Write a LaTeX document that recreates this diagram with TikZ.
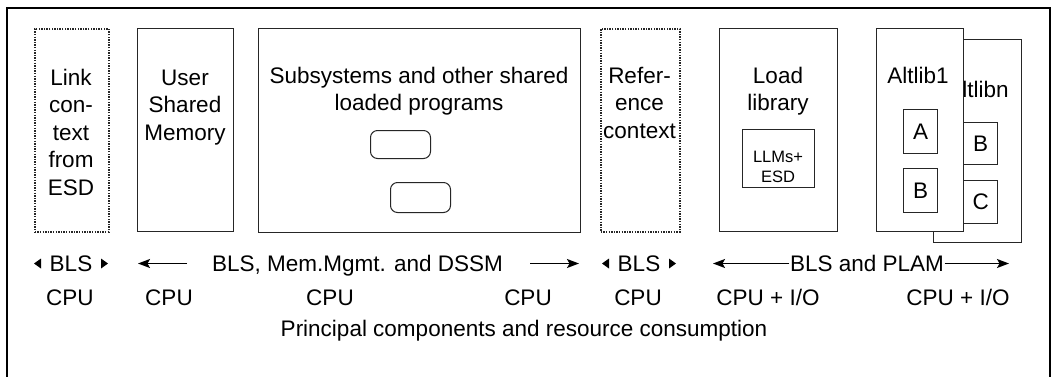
\documentclass[tikz,border=0pt]{standalone}
\usepackage{fontspec}
\setmainfont{Liberation Sans}
\usetikzlibrary{arrows.meta}
\definecolor{edge}{HTML}{262626}
\newcommand\bigtxt{\fontsize{22.5}{27.5}\selectfont}
\newcommand\smalltxt{\fontsize{16.5}{20}\selectfont}
\newcommand\firstline{\rule{0pt}{17pt}}
\begin{document}
\begin{tikzpicture}[x=1pt,y=-1pt,
  box/.style={draw=edge, line width=1.4pt, inner sep=0, anchor=north west, fill=white},
  dotbox/.style={box, dash pattern=on 1.4pt off 1.2pt, line width=1.7pt},
  roundbox/.style={draw=edge, line width=1pt, rounded corners=7pt, inner sep=0, anchor=north west},
  head/.style={anchor=north, inner sep=0, align=center, font=\bigtxt},
  bt/.style={anchor=base, inner sep=0, font=\bigtxt},
  arr/.style={line width=1.4pt, -{Stealth[length=12pt,width=9pt,inset=2.5pt]}},
  tri/.style={fill=black}]
\useasboundingbox (0,0) rectangle (1053,376);

% outer frame (open at the bottom)
\draw[line width=1.6pt] (7,377) -- (7,8) -- (1050,8) -- (1050,377);

% link context from ESD
\node[dotbox, minimum width=74pt, minimum height=203pt] (lce) at (34,28) {};
\node[head] (lcet) at (71,68) {\firstline Link\\con-\\text\\from\\ESD};

% user shared memory
\node[box, minimum width=96pt, minimum height=203pt] (usm) at (137,28) {};
\node[head] (usmt) at (185,68) {\firstline User\\Shared\\Memory};

% subsystems and shared loaded programs
\node[box, minimum width=322pt, minimum height=204pt] (sub) at (258,28) {};
\node[head] (subt) at (419,66) {\firstline Subsystems and other shared\\loaded programs};
\node[roundbox, minimum width=60pt, minimum height=28pt] (ss1) at (370,130) {};
\node[roundbox, minimum width=60pt, minimum height=30pt] (ss2) at (390,182) {};

% reference context
\node[dotbox, minimum width=79pt, minimum height=203pt] (ref) at (600,28) {};
\node[head] (reft) at (639.5,66) {\firstline Refer-\\ence\\context};

% load library
\node[box, minimum width=118pt, minimum height=203pt] (ll) at (719,28) {};
\node[head] (llt) at (778,66) {\firstline Load\\library};
\node[box, minimum width=72pt, minimum height=58pt] (llm) at (742,129) {};
\node[anchor=north, inner sep=0, align=center, font=\smalltxt] (llmt) at (778,149) {\rule{0pt}{13pt}LLMs+\\ESD};

% alternative library n (behind)
\node[box, minimum width=88pt, minimum height=203pt] (altn) at (933,39) {};
\node[head] (altnt) at (978,80) {\firstline Altlibn};
\node[box, minimum width=38pt, minimum height=42pt, font=\bigtxt] (bn) at (959,122) {\hspace*{4pt}B};
\node[box, minimum width=38pt, minimum height=43pt, font=\bigtxt] (cn) at (959,180) {\hspace*{4pt}C};

% alternative library 1 (front)
\node[box, minimum width=87pt, minimum height=203pt] (alt1) at (876,28) {};
\node[head] (alt1t) at (918,66) {\firstline Altlib1};
\node[box, minimum width=34pt, minimum height=44pt, font=\bigtxt] (a1) at (903,109) {A};
\node[box, minimum width=34pt, minimum height=44pt, font=\bigtxt] (b1) at (903,168) {B};

% resource row: managers
\node[bt] (bls1) at (71,271.5) {BLS};
\fill[tri] (34,263.5) -- (41,258.5) -- (41,268.5) -- cycle;
\fill[tri] (108,263.5) -- (101,258.5) -- (101,268.5) -- cycle;

\coordinate (m1a) at (187,263.5);
\coordinate (m1b) at (138,263.5);
\draw[arr] (m1a) -- (m1b);
\node[bt] (mgmt) at (357.5,271.5) {BLS, Mem.Mgmt. and DSSM};
\coordinate (m2a) at (530,263.5);
\coordinate (m2b) at (579,263.5);
\draw[arr] (m2a) -- (m2b);

\node[bt] (bls2) at (639,271.5) {BLS};
\fill[tri] (602,263.5) -- (609,258.5) -- (609,268.5) -- cycle;
\fill[tri] (676,263.5) -- (669,258.5) -- (669,268.5) -- cycle;

\node[bt, inner xsep=0.5pt] (plam) at (867,271.5) {BLS and PLAM};
\coordinate (pl) at (713,263.5);
\coordinate (pr) at (1009,263.5);
\draw[arr] (plam.west |- pl) -- (pl);
\draw[arr] (plam.east |- pr) -- (pr);

% resource row: consumption
\node[bt] (c1) at (70,305) {CPU};
\node[bt] (c2) at (169,305) {CPU};
\node[bt] (c3) at (330,305) {CPU};
\node[bt] (c4) at (528,305) {CPU};
\node[bt] (c5) at (638,305) {CPU};
\node[bt] (c6) at (768,305) {CPU + I/O};
\node[bt] (c7) at (958,305) {CPU + I/O};

% caption
\node[bt] (cap) at (524,336) {Principal components and resource consumption};
\end{tikzpicture}
\end{document}
